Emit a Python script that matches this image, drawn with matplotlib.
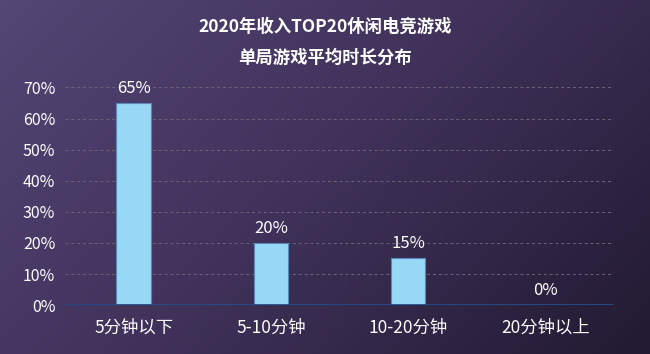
import matplotlib
matplotlib.use('Agg')
import matplotlib.pyplot as plt
from matplotlib.colors import LinearSegmentedColormap
import numpy as np

plt.rcParams['font.family'] = ['Noto Sans CJK SC', 'DejaVu Sans']

# data
categories = ['5分钟以下', '5-10分钟', '10-20分钟', '20分钟以上']
values = [65, 20, 15, 0]
y_ticks = [0, 10, 20, 30, 40, 50, 60, 70]
title_lines = ['2020年收入TOP20休闲电竞游戏', '单局游戏平均时长分布']

fig = plt.figure(figsize=(6.5, 3.54), dpi=100)

# gradient background, purple top-left to dark bottom-right
bg = fig.add_axes([0, 0, 1, 1], zorder=-10)
xx, yy = np.meshgrid(np.linspace(0, 1, 200), np.linspace(0, 1, 120))
grad = 0.65 * xx + 0.35 * yy
cmap = LinearSegmentedColormap.from_list('bg', ['#544675', '#3f3159', '#221a32'])
bg.imshow(grad, cmap=cmap, aspect='auto', extent=[0, 1, 0, 1], origin='upper')
bg.axis('off')

ax = fig.add_axes([0.1, 0.138, 0.845, 0.615])
ax.patch.set_alpha(0)

x = np.arange(len(categories)) + 0.5
ax.bar(x, values, width=0.25, color='#97d8f5', edgecolor='#5a86b8', linewidth=0.8, zorder=3)

for xi, v in zip(x, values):
    ax.text(xi, v + 2.0, f'{v}%', ha='center', va='bottom', color='white', fontsize=12)

ax.set_xlim(0, 4)
ax.set_ylim(0, 70)
ax.set_yticks(y_ticks)
ax.set_yticklabels([f'{t}%' for t in y_ticks])
ax.set_xticks(x)
ax.set_xticklabels(categories)

for t in y_ticks[1:]:
    ax.axhline(t, color='#6e6478', linestyle=(0, (3, 3)), linewidth=0.7, zorder=1)
ax.axhline(0, color='#1f4f8a', linewidth=2, zorder=4)

for s in ax.spines.values():
    s.set_visible(False)
ax.tick_params(axis='both', length=0, colors='white')
ax.tick_params(axis='y', labelsize=11.5, pad=7)
ax.tick_params(axis='x', labelsize=12.5, pad=10)

fig.text(0.5, 0.925, title_lines[0], ha='center', va='center', color='white',
         fontsize=12.5, fontweight='bold')
fig.text(0.5, 0.838, title_lines[1], ha='center', va='center', color='white',
         fontsize=12.5, fontweight='bold')

fig.savefig('out.png', dpi=100)
